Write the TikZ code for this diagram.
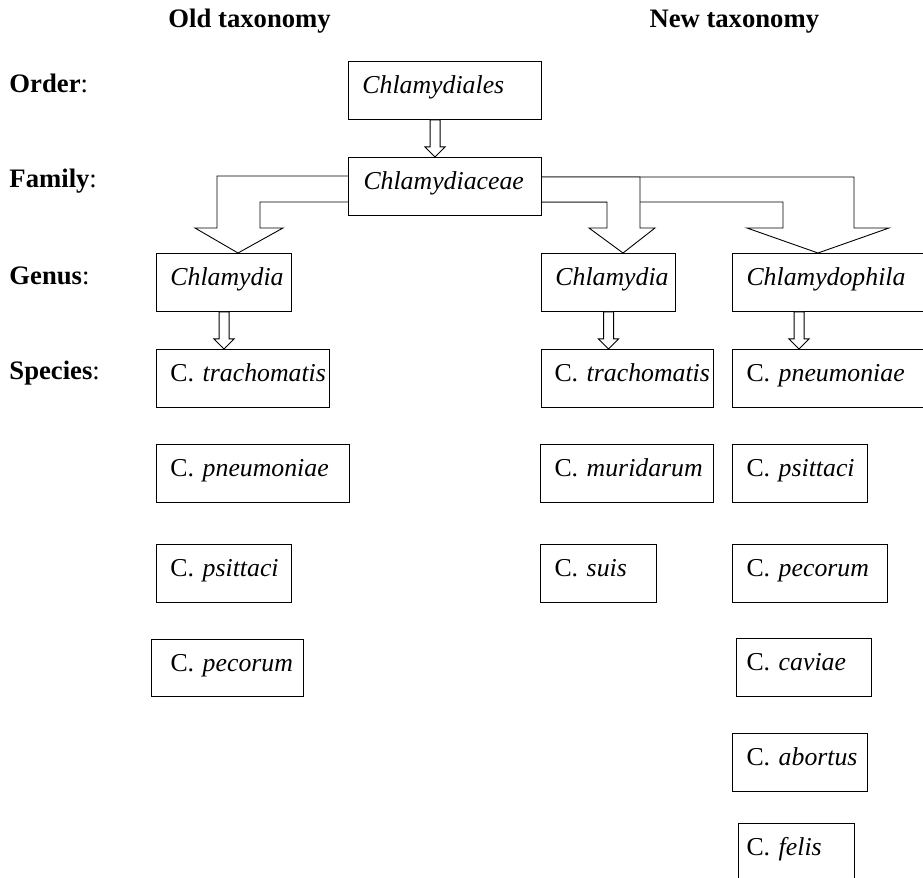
\documentclass[tikz,border=0pt]{standalone}
\usepackage{fontspec}
\setmainfont{Liberation Serif}
\usepackage{tikz}
\usetikzlibrary{calc, backgrounds}

\newdimen\pxu
\pxu=0.45pt

\begin{document}
\begin{tikzpicture}[x=0.45pt, y=-0.45pt,
                font=\fontsize{12}{14}\selectfont,
                line width=0.45pt,
                taxbox/.style n args={3}{
                    draw,
                    fill=white,
                    anchor=north west,
                    inner sep=0pt,
                    align=left,
                    font=\fontsize{11.6}{14}\selectfont,
                    text width=#1*\pxu,
                    text height=32*\pxu,
                    text depth={(#2-32)*\pxu},
                    execute at begin node={\hyphenpenalty=10000\relax\hspace*{#3\pxu}}
                },
                rank/.style={anchor=base west, inner sep=0pt},
                blockarrow/.style={draw, fill=white},
                hollow/.style={
                    draw,
                    fill=white,
                    to path={let \p1=(\tikztostart), \p2=(\tikztotarget) in
                        (\x1-2.25pt,\y1) -- (\x1-2.25pt,\y2+4.5pt) -- (\x1-4.5pt,\y2+4.5pt)
                        -- (\x1,\y2) -- (\x1+4.5pt,\y2+4.5pt) -- (\x1+2.25pt,\y2+4.5pt)
                        -- (\x1+2.25pt,\y1) -- cycle}
                }]

        \path[use as bounding box, clip] (0,0) rectangle (923,878);

        % headings and ranks
        \node[rank] (oldhead) at (168,28) {\textbf{Old taxonomy}};
        \node[rank] (newhead) at (649,28) {\textbf{New taxonomy}};
        \node[rank] (order-l) at (9,93) {\textbf{Order}:};
        \node[rank] (family-l) at (9,188) {\textbf{Family}:};
        \node[rank] (genus-l) at (9,285) {\textbf{Genus}:};
        \node[rank] (species-l) at (9,380) {\textbf{Species}:};

        \node[taxbox={193}{58}{14}] (order) at (348,61) {\textit{Chlamydiales}};
        \node[taxbox={193}{58}{15}] (fam) at (348,157) {\textit{Chlamydiaceae}};

        % old taxonomy
        \node[taxbox={135}{58}{14}] (gen1) at (156,253) {\textit{Chlamydia}};
        \node[taxbox={173}{58}{14}] (trach1) at (156,349) {C.~\textit{trachomatis}};
        \node[taxbox={193}{58}{14}] (pneu1) at (156,444) {C.~\textit{pneumoniae}};
        \node[taxbox={135}{58}{14}] (psit1) at (156,544) {C.~\textit{psittaci}};
        \node[taxbox={152}{57}{19}] (peco1) at (151,639) {C.~\textit{pecorum}};

        % new taxonomy
        \node[taxbox={134}{58}{14}] (gen2) at (541,253) {\textit{Chlamydia}};
        \node[taxbox={198}{58}{14}] (gen3) at (732,253) {\textit{Chlamydophila}};
        \node[taxbox={172}{58}{13}] (trach2) at (541,349) {C.~\textit{trachomatis}};
        \node[taxbox={173}{58}{14}] (murid) at (540,444) {C.~\textit{muridarum}};
        \node[taxbox={116}{58}{14}] (suis) at (540,544) {C.~\textit{suis}};
        \node[taxbox={198}{58}{14}] (pneu2) at (732,349) {C.~\textit{pneumoniae}};
        \node[taxbox={135}{58}{14}] (psit2) at (732,444) {C.~\textit{psittaci}};
        \node[taxbox={155}{58}{14}] (peco2) at (732,544) {C.~\textit{pecorum}};
        \node[taxbox={135}{58}{10}] (cavi) at (736,638) {C.~\textit{caviae}};
        \node[taxbox={135}{58}{14}] (abort) at (732,733) {C.~\textit{abortus}};
        \node[taxbox={116}{58}{8}] (felis) at (738,823) {C.~\textit{felis}};

        % block arrows out of the family
        \begin{scope}[on background layer]
        \draw[blockarrow] ($(fam.north west)+(0,19)$) -- (217,176) -- (217,228) -- (195,228)
            -- ($(gen1.north west)+(82,0)$) -- (283,228) -- (260,228) -- (260,202)
            -- ($(fam.north west)+(0,45)$);
        \draw[blockarrow] ($(fam.north east)+(0,20)$) -- (854,177) -- (854,228) -- (889,228)
            -- ($(gen3.north west)+(86,0)$) -- (747,228) -- (783,228) -- (783,202)
            -- ($(fam.north east)+(0,45)$);
        \draw[blockarrow] ($(fam.north east)+(0,20)$) -- (640,177) -- (640,228) -- (655,228)
            -- ($(gen2.north west)+(82,0)$) -- (589,228) -- (607,228) -- (607,202)
            -- ($(fam.north east)+(0,45)$);
        \end{scope}

        % small arrows
        \draw[hollow] ($(order.south)+(-10,0)$) to (fam.north);
        \draw[hollow] (gen1.south) to (trach1.north);
        \draw[hollow] (gen2.south) to (trach2.north);
        \draw[hollow] ($(gen3.south west)+(67,0)$) to (pneu2.north);

    \end{tikzpicture}
\end{document}
